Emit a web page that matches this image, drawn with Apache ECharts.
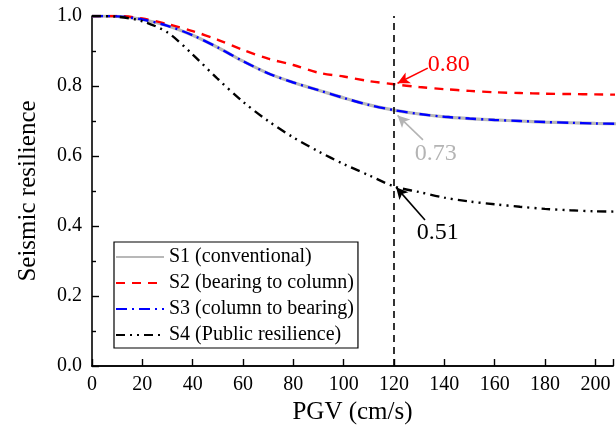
<!DOCTYPE html>
<html>
<head>
<meta charset="utf-8">
<script src="https://cdn.jsdelivr.net/npm/echarts@6/dist/echarts.min.js"></script>
<style>html,body{margin:0;padding:0;background:#fff}#c{width:616px;height:435px}</style>
</head>
<body>
<div id="c"></div>
<script>
var pgv = [0,10,20,30,40,50,60,70,80,90,100,110,120,130,140,150,160,170,180,190,200,210];
var s1 = [1.0,0.999,0.99,0.972,0.945,0.91,0.871,0.836,0.81,0.788,0.766,0.746,0.731,0.72,0.712,0.707,0.703,0.700,0.697,0.695,0.693,0.692];
var s2 = [1.0,1.0,0.993,0.977,0.957,0.932,0.903,0.878,0.86,0.838,0.827,0.814,0.805,0.797,0.791,0.786,0.782,0.780,0.778,0.777,0.776,0.775];
var s3 = [1.0,0.999,0.99,0.972,0.945,0.91,0.871,0.836,0.81,0.788,0.766,0.746,0.731,0.72,0.712,0.707,0.703,0.700,0.697,0.695,0.693,0.692];
var s4 = [1.0,0.998,0.985,0.953,0.89,0.82,0.755,0.70,0.653,0.613,0.577,0.545,0.513,0.497,0.481,0.47,0.462,0.455,0.449,0.445,0.442,0.441];
var names = ['S1 (conventional)','S2 (bearing to column)','S3 (column to bearing)','S4 (Public resilience)'];
var markX = 120;
// annotations: [label, textX, textY, tailX, tailY, headX, headY, color]
var notes = [
  ['0.80', 141.7, 0.86, 133.4, 0.851, 121.4, 0.808, '#ff0000'],
  ['0.73', 136.6, 0.606, 131.5, 0.646, 121.4, 0.716, '#b4b4b4'],
  ['0.51', 137.4, 0.38, 132.3, 0.417, 120.8, 0.511, '#000000']
];

function pairs(v){ return pgv.map(function(x,i){ return [x, v[i]]; }); }
var font = 'Liberation Serif';
var chart = echarts.init(document.getElementById('c'), null, {renderer:'canvas'});
var series = [
  {name:names[0], type:'line', data:pairs(s1), smooth:0.3, symbol:'none', lineStyle:{color:'#b8b8b8', width:3.2, type:'solid'}, itemStyle:{color:'#b8b8b8'}, z:2},
  {name:names[1], type:'line', data:pairs(s2), smooth:0.3, symbol:'none', lineStyle:{color:'#ff0000', width:2.4, type:[9,7]}, itemStyle:{color:'#ff0000'}, z:3},
  {name:names[2], type:'line', data:pairs(s3), smooth:0.3, symbol:'none', lineStyle:{color:'#0000ff', width:2.4, type:[11,5,2,5]}, itemStyle:{color:'#0000ff'}, z:4},
  {name:names[3], type:'line', data:pairs(s4), smooth:0.3, symbol:'none', lineStyle:{color:'#000000', width:2.4, type:[9,5,2,5,2,5]}, itemStyle:{color:'#000000'}, z:5,
    markLine:{silent:true, symbol:['none','none'], label:{show:false},
      lineStyle:{color:'#000', width:1.6, type:[7,5]},
      data:[[{coord:[markX,0]},{coord:[markX,1]}]]}}
];
notes.forEach(function(n){
  series.push({type:'line', data:[], silent:true, z:6,
    markLine:{silent:true, symbol:['none','arrow'], symbolSize:[9,12], label:{show:false}, animation:false,
      lineStyle:{color:n[7], width:1.6, type:'solid'},
      data:[[{coord:[n[3],n[4]]},{coord:[n[5],n[6]]}]]},
    markPoint:{silent:true, symbol:'rect', symbolSize:1, itemStyle:{color:'rgba(0,0,0,0)'}, animation:false,
      label:{show:true, position:'inside', formatter:n[0], color:n[7], fontFamily:font, fontSize:24},
      data:[{coord:[n[1],n[2]]}]}
  });
});
chart.setOption({
  animation:false,
  backgroundColor:'#fff',
  grid:{left:92, top:16, right:0, bottom:69, containLabel:false},
  legend:{
    orient:'vertical', left:114, top:242, data:names,
    itemWidth:48, itemHeight:22, itemGap:4, padding:[4,4,2,1],
    borderColor:'#000', borderWidth:1.2, backgroundColor:'#fff',
    textStyle:{fontFamily:font, fontSize:20, color:'#000', lineHeight:22},
    itemStyle:{opacity:0}
  },
  xAxis:[{
    type:'value', min:0, max:207, interval:20,
    name:'PGV (cm/s)', nameLocation:'middle', nameGap:30,
    nameTextStyle:{fontFamily:font, fontSize:25, color:'#000'},
    axisLine:{show:true, onZero:false, lineStyle:{color:'#000', width:1.6}},
    axisTick:{show:true, inside:true, length:7, lineStyle:{color:'#000', width:1.4}},
    axisLabel:{fontFamily:font, fontSize:20, color:'#000', margin:9,
      formatter:function(v){ return (v % 20 === 0) ? String(v) : ''; }},
    splitLine:{show:false}
  },{
    type:'value', min:0, max:207, position:'top',
    axisLine:{show:true, lineStyle:{color:'#000', width:1.6}},
    axisTick:{show:false}, axisLabel:{show:false}, splitLine:{show:false}
  }],
  yAxis:{
    type:'value', min:0, max:1, interval:0.2,
    name:'Seismic resilience', nameLocation:'middle', nameGap:51,
    nameTextStyle:{fontFamily:font, fontSize:25, color:'#000'},
    axisLine:{show:true, onZero:false, lineStyle:{color:'#000', width:1.6}},
    axisTick:{show:true, inside:true, length:7, lineStyle:{color:'#000', width:1.4}},
    minorTick:{show:true, splitNumber:2, length:4, lineStyle:{color:'#000', width:1.4}},
    axisLabel:{fontFamily:font, fontSize:20, color:'#000', margin:10,
      formatter:function(v){ return v.toFixed(1); }},
    splitLine:{show:false}
  },
  series:series
});
</script>
</body>
</html>
